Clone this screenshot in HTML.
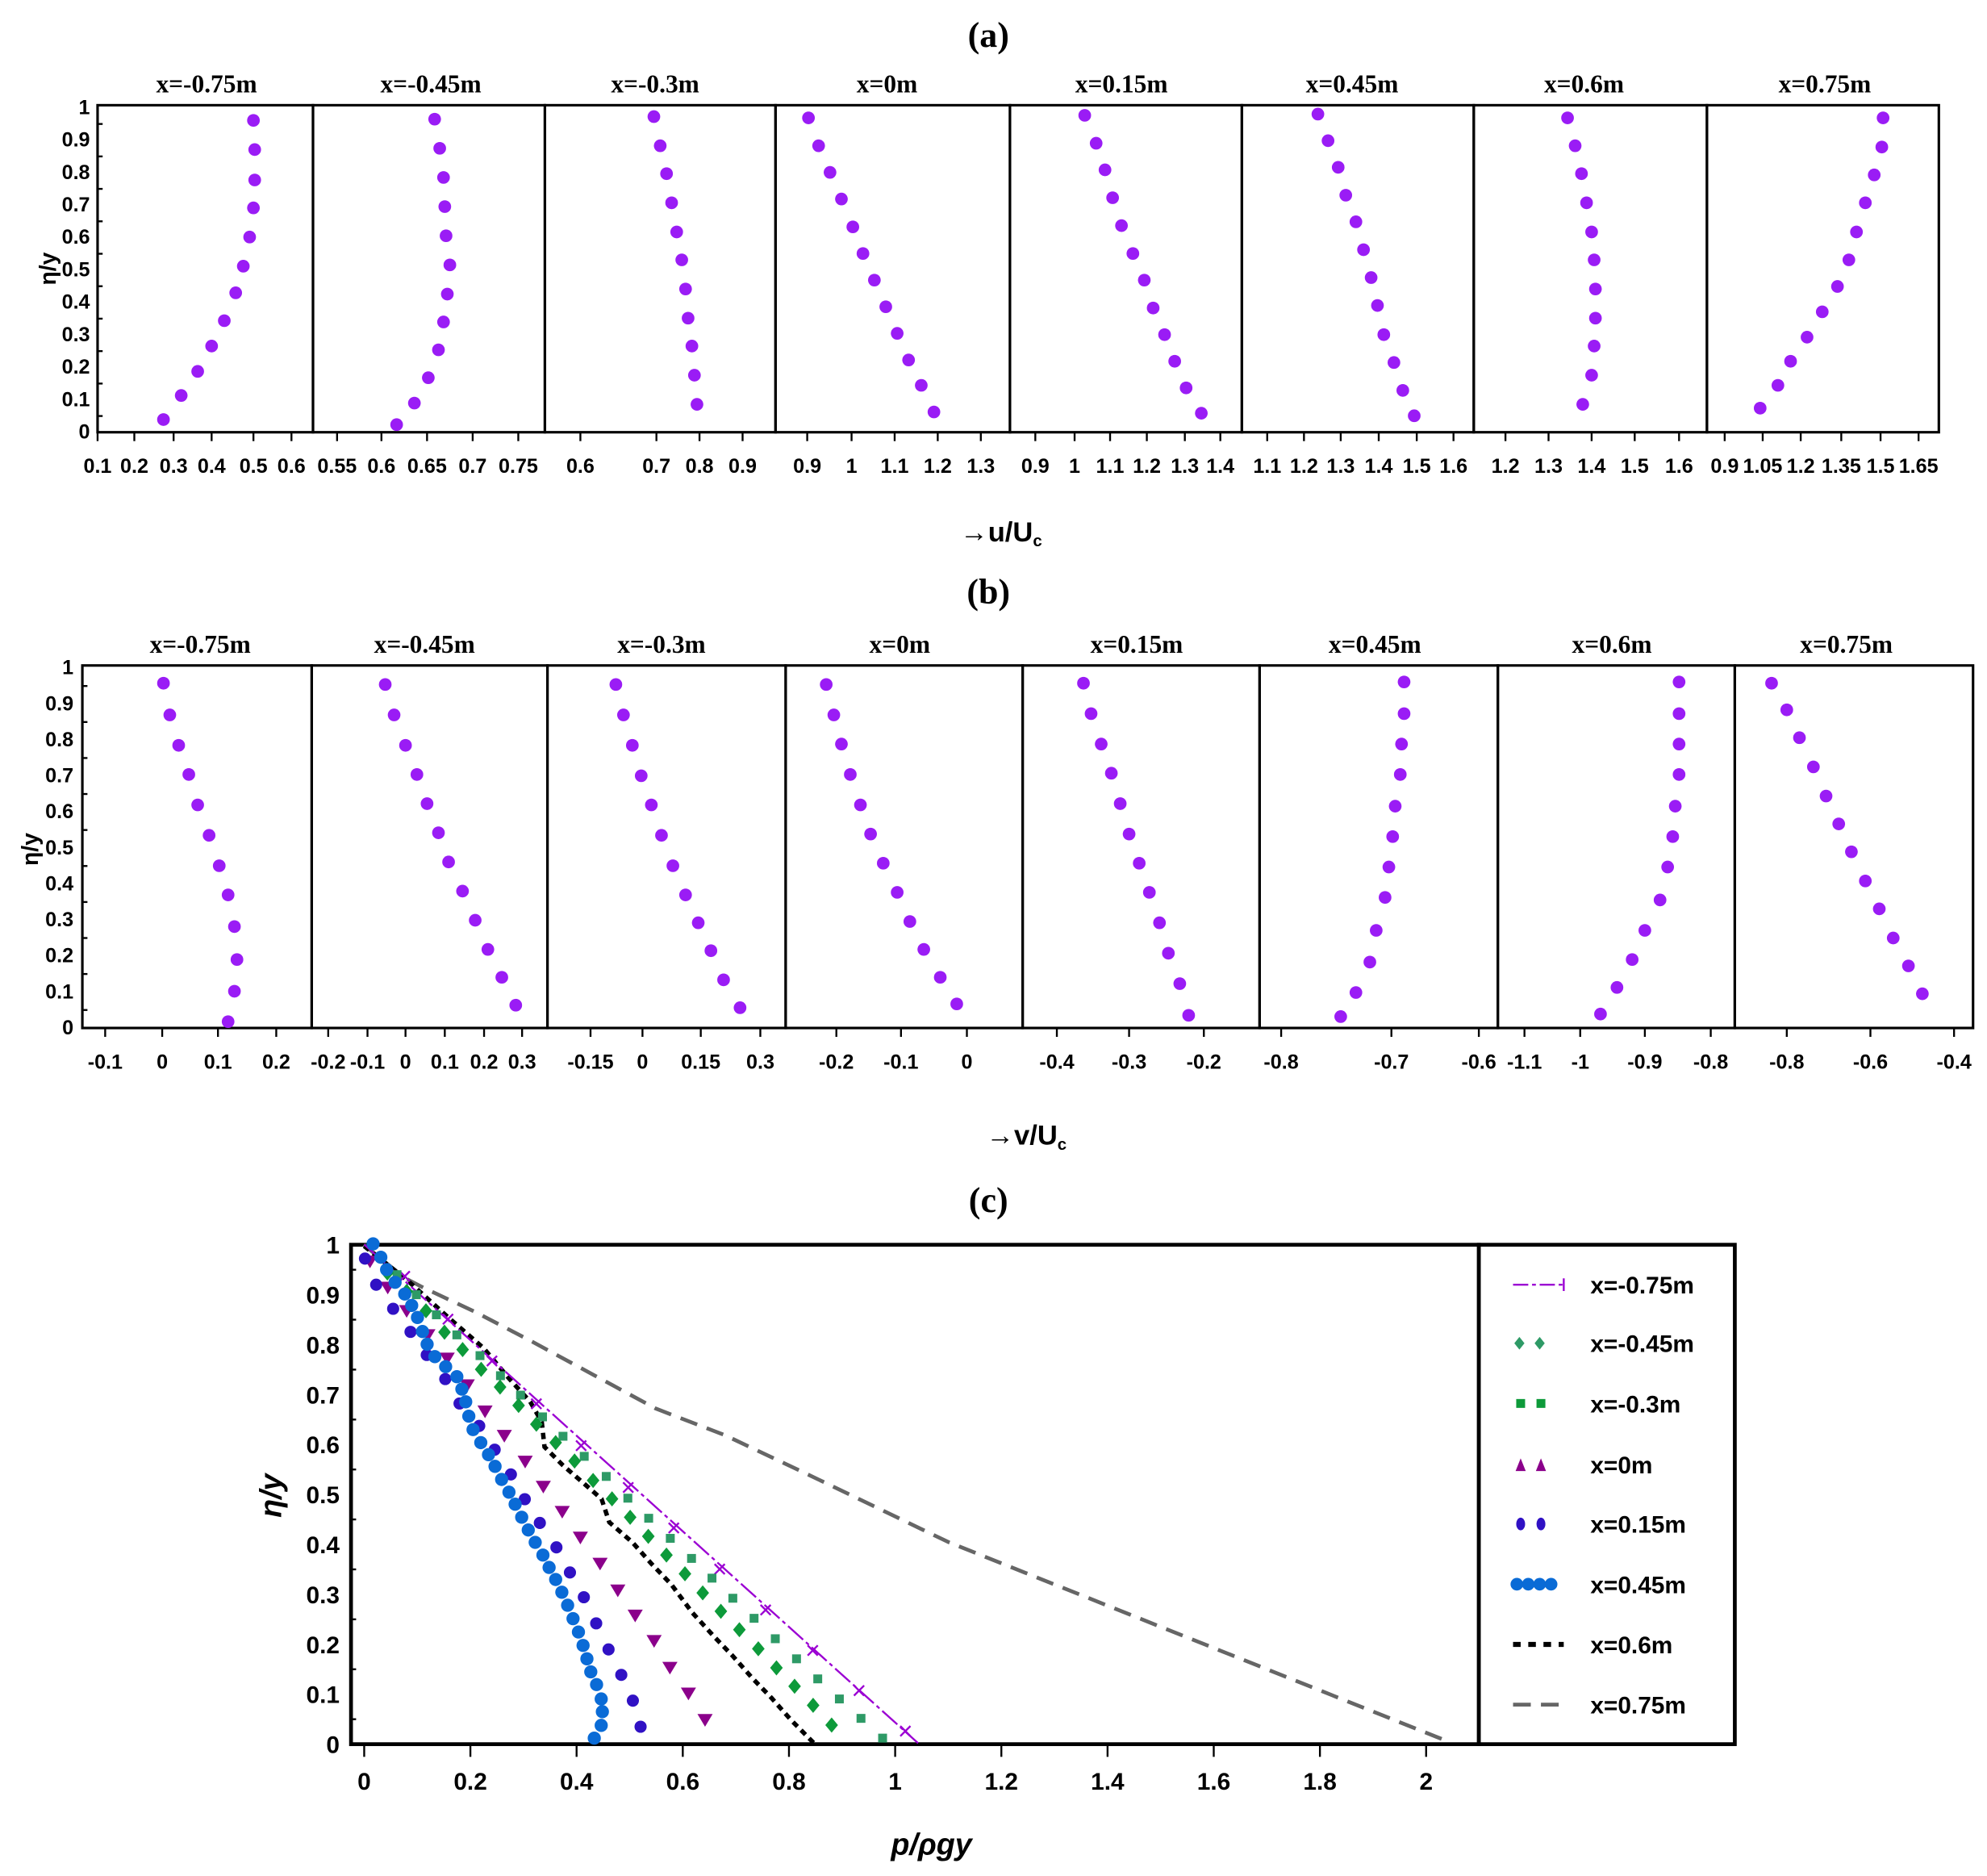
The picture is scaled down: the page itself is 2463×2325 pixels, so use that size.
<!DOCTYPE html>
<html><head><meta charset="utf-8">
<style>
html,body{margin:0;padding:0;background:#fff;}
svg{display:block;}
.t{font-family:"Liberation Serif",serif;font-weight:bold;}
.s{font-family:"Liberation Sans",sans-serif;font-weight:bold;}
</style></head>
<body>
<svg id="s" xmlns="http://www.w3.org/2000/svg" width="2463" height="2325" viewBox="0 0 1568 1480" preserveAspectRatio="none">
<rect width="1568" height="1480" fill="#fff"/>
<text class="t" x="780" y="37" font-size="28" text-anchor="middle">(a)</text>
<text class="t" x="780" y="476" font-size="28" text-anchor="middle">(b)</text>
<text class="t" x="780" y="956" font-size="28" text-anchor="middle">(c)</text>
<text class="s" x="790" y="427" font-size="22" text-anchor="middle">→u/U<tspan font-size="13" dy="4">c</tspan></text>
<text class="s" x="810" y="903" font-size="22" text-anchor="middle">→v/U<tspan font-size="13" dy="4">c</tspan></text>
<text class="s" transform="translate(44,212) rotate(-90)" font-size="18" text-anchor="middle">η/y</text>
<text class="s" transform="translate(30,670) rotate(-90)" font-size="18" text-anchor="middle">η/y</text>
<text class="s" transform="translate(222,1180) rotate(-90)" font-size="24" font-style="italic" text-anchor="middle">η/y</text>
<text class="s" x="735" y="1463" font-size="24" font-style="italic" text-anchor="middle">p/ρgy</text>
<g id="g"></g>
</svg>
<script>
(function(){
var NS="http://www.w3.org/2000/svg",G=document.getElementById("g");
function el(n,a,txt){var e=document.createElementNS(NS,n);for(var k in a)e.setAttribute(k,a[k]);if(txt!==undefined)e.textContent=txt;G.appendChild(e);return e;}
var VI="#9a1cf5";
function panel(P){
  var e=P.edges;
  for(var i=0;i<e.length-1;i++){
    el("rect",{x:e[i],y:P.top-2,width:e[i+1]-e[i],height:P.bot-P.top+2,fill:"none",stroke:"#000","stroke-width":2});
    el("text",{x:P.tc[i],y:P.ty,"font-size":20,"text-anchor":"middle","class":"t"},P.titles[i]);
    P.ticks[i].forEach(function(t){
      el("line",{x1:t[1],x2:t[1],y1:P.bot,y2:P.bot+7,stroke:"#000","stroke-width":1.5});
      el("text",{x:t[1],y:P.bot+32,"font-size":16,"text-anchor":"middle","class":"s"},t[0]);
    });
    P.pts[i].forEach(function(p){el("circle",{cx:p[0],cy:p[1],r:5,fill:VI});});
  }
  for(var k=0;k<=10;k++){
    var y=P.bot-(P.bot-P.top)*k/10;
    el("text",{x:P.yl,y:y+5,"font-size":16,"text-anchor":"end","class":"s"},k==0?"0":k==10?"1":"0."+k);
    if(k<10){var yy=y-(P.bot-P.top)/20;el("line",{x1:e[0],x2:e[0]+4,y1:yy,y2:yy,stroke:"#000","stroke-width":1.5});}
  }
}
var titles=["x=-0.75m","x=-0.45m","x=-0.3m","x=0m","x=0.15m","x=0.45m","x=0.6m","x=0.75m"];
panel({top:85,bot:341,ty:73,yl:71,edges:[77,247,430,612,797,980,1163,1347,1530],
 tc:[163,340,517,700,885,1067,1250,1440],titles:titles,
 ticks:[[["0.1",77],["0.2",106],["0.3",137],["0.4",167],["0.5",200],["0.6",230]],
 [["0.55",266],["0.6",301],["0.65",337],["0.7",373],["0.75",409]],
 [["0.6",458],["0.7",518],["0.8",552],["0.9",586]],
 [["0.9",637],["1",672],["1.1",706],["1.2",740],["1.3",774]],
 [["0.9",817],["1",848],["1.1",876],["1.2",905],["1.3",935],["1.4",963]],
 [["1.1",1000],["1.2",1029],["1.3",1058],["1.4",1088],["1.5",1118],["1.6",1147]],
 [["1.2",1188],["1.3",1222],["1.4",1256],["1.5",1290],["1.6",1325]],
 [["0.9",1361],["1.05",1391],["1.2",1421],["1.35",1453],["1.5",1484],["1.65",1514]]],
 pts:[[[200,95],[201,118],[201,142],[200,164],[197,187],[192,210],[186,231],[177,253],[167,273],[156,293],[143,312],[129,331]],
 [[343,94],[347,117],[350,140],[351,163],[352,186],[355,209],[353,232],[350,254],[346,276],[338,298],[327,318],[313,335]],
 [[516,92],[521,115],[526,137],[530,160],[534,183],[538,205],[541,228],[543,251],[546,273],[548,296],[550,319]],
 [[638,93],[646,115],[655,136],[664,157],[673,179],[681,200],[690,221],[699,242],[708,263],[717,284],[727,304],[737,325]],
 [[856,91],[865,113],[872,134],[878,156],[885,178],[894,200],[903,221],[910,243],[919,264],[927,285],[936,306],[948,326]],
 [[1040,90],[1048,111],[1056,132],[1062,154],[1070,175],[1076,197],[1082,219],[1087,241],[1092,264],[1100,286],[1107,308],[1116,328]],
 [[1237,93],[1243,115],[1248,137],[1252,160],[1256,183],[1258,205],[1259,228],[1259,251],[1258,273],[1256,296],[1249,319]],
 [[1486,93],[1485,116],[1479,138],[1472,160],[1465,183],[1459,205],[1450,226],[1438,246],[1426,266],[1413,285],[1403,304],[1389,322]]]});
panel({top:527,bot:811,ty:515,yl:58,edges:[65,246,432,620,807,994,1182,1369,1557],
 tc:[158,335,522,710,897,1085,1272,1457],titles:titles,
 ticks:[[["-0.1",83],["0",128],["0.1",172],["0.2",218]],
 [["-0.2",259],["-0.1",290],["0",320],["0.1",351],["0.2",382],["0.3",412]],
 [["-0.15",466],["0",507],["0.15",553],["0.3",600]],
 [["-0.2",660],["-0.1",711],["0",763]],
 [["-0.4",834],["-0.3",891],["-0.2",950]],
 [["-0.8",1011],["-0.7",1098],["-0.6",1167]],
 [["-1.1",1203],["-1",1247],["-0.9",1298],["-0.8",1350]],
 [["-0.8",1410],["-0.6",1476],["-0.4",1542]]],
 pts:[[[129,539],[134,564],[141,588],[149,611],[156,635],[165,659],[173,683],[180,706],[185,731],[187,757],[185,782],[180,806]],
 [[304,540],[311,564],[320,588],[329,611],[337,634],[346,657],[354,680],[365,703],[375,726],[385,749],[396,771],[407,793]],
 [[486,540],[492,564],[499,588],[506,612],[514,635],[522,659],[531,683],[541,706],[551,728],[561,750],[571,773],[584,795]],
 [[652,540],[658,564],[664,587],[671,611],[679,635],[687,658],[697,681],[708,704],[718,727],[729,749],[742,771],[755,792]],
 [[855,539],[861,563],[869,587],[877,610],[884,634],[891,658],[899,681],[907,704],[915,728],[922,752],[931,776],[938,801]],
 [[1108,538],[1108,563],[1106,587],[1105,611],[1101,636],[1099,660],[1096,684],[1093,708],[1086,734],[1081,759],[1070,783],[1058,802]],
 [[1325,538],[1325,563],[1325,587],[1325,611],[1322,636],[1320,660],[1316,684],[1310,710],[1298,734],[1288,757],[1276,779],[1263,800]],
 [[1398,539],[1410,560],[1420,582],[1431,605],[1441,628],[1451,650],[1461,672],[1472,695],[1483,717],[1494,740],[1506,762],[1517,784]]]});

/* panel c */
function X(z){return 273.7+z*0.3046;} function Y(z){return 973.9+z*0.264;}
var T=982,B=1376,L=277,R=1167;
el("rect",{x:L,y:T,width:R-L,height:B-T,fill:"none",stroke:"#000","stroke-width":3});
el("rect",{x:1167,y:T,width:202,height:B-T,fill:"none",stroke:"#000","stroke-width":3});
for(var k=0;k<=10;k++){
  var y=B-(B-T)*k/10;
  el("text",{x:268,y:y+7,"font-size":19,"text-anchor":"end","class":"s"},k==0?"0":k==10?"1":"0."+k);
  if(k<10){var yy=y-(B-T)/20;el("line",{x1:L,x2:L+4,y1:yy,y2:yy,stroke:"#000","stroke-width":1.5});}
}
for(var k=0;k<=10;k++){
  var x=287.4+k*83.8;
  el("line",{x1:x,x2:x,y1:B,y2:B+10,stroke:"#000","stroke-width":1.5});
  var lab=(k*0.2).toFixed(1).replace(/\.0$/,"");
  el("text",{x:x,y:1412,"font-size":19,"text-anchor":"middle","class":"s"},lab);
}
function poly(pts,st){var d=pts.map(function(p){return X(p[0]).toFixed(1)+","+Y(p[1]).toFixed(1);}).join(" ");st.points=d;st.fill="none";el("polyline",st);}
el("polyline",{points:"287,982 319.4,1008.2 334.6,1016.1 374.2,1034.6 419.9,1058.4 468.6,1084.8 517.4,1111.2 572.2,1132.3 639.2,1164 748.9,1216.8 1143,1374",fill:"none",stroke:"#666","stroke-width":3,"stroke-dasharray":"14,8"});
poly([[45,35],[160,140],[260,245],[355,340],[420,430],[475,500],[505,560],[512,635],[560,690],[620,750],[660,790],[680,860],[740,920],[790,985],[840,1045],[895,1130],[950,1200],[1000,1260],[1050,1325],[1100,1385],[1150,1450],[1210,1520]],{stroke:"#000","stroke-width":3.5,"stroke-dasharray":"5,4"});
poly([[45,30],[1480,1520]],{stroke:"#9b00d3","stroke-width":1.5,"stroke-dasharray":"16,3,3,3"});
[[150,125],[262,253],[376,378],[491,506],[607,631],[729,756],[847,877],[966,1000],[1085,1122],[1207,1243],[1327,1363],[1447,1484]].forEach(function(p){
  var x=X(p[0]),y=Y(p[1]);el("path",{d:"M"+(x-4)+","+(y-4)+"L"+(x+4)+","+(y+4)+"M"+(x+4)+","+(y-4)+"L"+(x-4)+","+(y+4),stroke:"#9b00d3","stroke-width":1.5});});
[[130,120],[180,180],[232,240],[285,300],[345,362],[398,422],[450,480],[507,545],[560,603],[615,663],[672,723],[728,788],[782,848],[838,908],[893,968],[946,1027],[1000,1087],[1055,1147],[1110,1208],[1165,1268],[1220,1328],[1276,1388],[1332,1446],[1388,1505]].forEach(function(p){
  el("rect",{x:X(p[0])-3.5,y:Y(p[1])-3.5,width:7,height:7,fill:"#2e9a66"});});
[[105,115],[155,170],[205,228],[253,292],[300,344],[348,403],[397,456],[445,511],[491,567],[541,622],[590,677],[638,735],[687,790],[734,845],[781,902],[828,958],[876,1014],[922,1071],[969,1126],[1017,1181],[1066,1238],[1113,1295],[1160,1350],[1208,1407],[1256,1466]].forEach(function(p){
  var x=X(p[0]),y=Y(p[1]);el("path",{d:"M"+x+","+(y-6)+"L"+(x+5)+","+y+"L"+x+","+(y+6)+"L"+(x-5)+","+y+"Z",fill:"#0d9a3a"});});
[[60,82],[106,160],[155,230],[210,302],[260,372],[312,452],[358,530],[408,603],[462,680],[509,755],[558,830],[605,907],[656,985],[702,1065],[747,1140],[796,1216],[837,1296],[885,1373],[928,1452]].forEach(function(p){
  var x=X(p[0]),y=Y(p[1]);el("path",{d:"M"+(x-6)+","+(y-5)+"L"+(x+6)+","+(y-5)+"L"+x+","+(y+5)+"Z",fill:"#8b008b"});});
[[47,72],[76,150],[120,222],[165,291],[207,360],[255,432],[292,505],[343,572],[383,643],[425,717],[461,791],[500,862],[543,935],[578,1010],[614,1084],[646,1162],[678,1240],[711,1316],[741,1393],[761,1471]].forEach(function(p){
  el("circle",{cx:X(p[0]),cy:Y(p[1]),r:4.8,fill:"#3011c4"});});
[[68,28],[88,68],[103,105],[125,143],[150,178],[168,212],[183,248],[196,290],[208,328],[228,365],[256,395],[285,425],[298,462],[308,500],[316,543],[327,583],[347,622],[367,658],[384,693],[401,732],[420,770],[436,806],[453,845],[470,883],[488,920],[508,958],[524,995],[541,1031],[557,1069],[572,1108],[586,1148],[600,1188],[612,1228],[622,1268],[632,1307],[647,1345],[659,1388],[662,1426],[659,1467],[641,1505]].forEach(function(p){
  el("circle",{cx:X(p[0]),cy:Y(p[1]),r:5.2,fill:"#0a6bd6"});});
var ly=[1013.5,1059.7,1107.2,1155.5,1202.3,1249.8,1297.3,1344.8];
var names=["x=-0.75m","x=-0.45m","x=-0.3m","x=0m","x=0.15m","x=0.45m","x=0.6m","x=0.75m"];
ly.forEach(function(y,i){el("text",{x:1255,y:y+7,"font-size":19,"class":"s"},names[i]);});
el("line",{x1:1194,x2:1234,y1:ly[0],y2:ly[0],stroke:"#9b00d3","stroke-width":1.5,"stroke-dasharray":"12,3,3,3"});
el("line",{x1:1234,x2:1234,y1:ly[0]-5,y2:ly[0]+5,stroke:"#9b00d3","stroke-width":1.5});
[1199,1215].forEach(function(x){var y=ly[1];el("path",{d:"M"+x+","+(y-5)+"L"+(x+4)+","+y+"L"+x+","+(y+5)+"L"+(x-4)+","+y+"Z",fill:"#2e9a66"});});
[1200,1216].forEach(function(x){el("rect",{x:x-3.5,y:ly[2]-3.5,width:7,height:7,fill:"#0d9a3a"});});
[1200,1216].forEach(function(x){var y=ly[3];el("path",{d:"M"+(x-4)+","+(y+5)+"L"+(x+4)+","+(y+5)+"L"+x+","+(y-5)+"Z",fill:"#8b008b"});});
[1200,1216].forEach(function(x){el("ellipse",{cx:x,cy:ly[4],rx:3.5,ry:5,fill:"#3011c4"});});
[1197,1206,1215,1224].forEach(function(x){el("circle",{cx:x,cy:ly[5],r:5,fill:"#0a6bd6"});});
el("line",{x1:1194,x2:1234,y1:ly[6],y2:ly[6],stroke:"#000","stroke-width":4,"stroke-dasharray":"6,6"});
el("line",{x1:1194,x2:1234,y1:ly[7],y2:ly[7],stroke:"#666","stroke-width":3,"stroke-dasharray":"14,8"});
})();
</script>
</body></html>
